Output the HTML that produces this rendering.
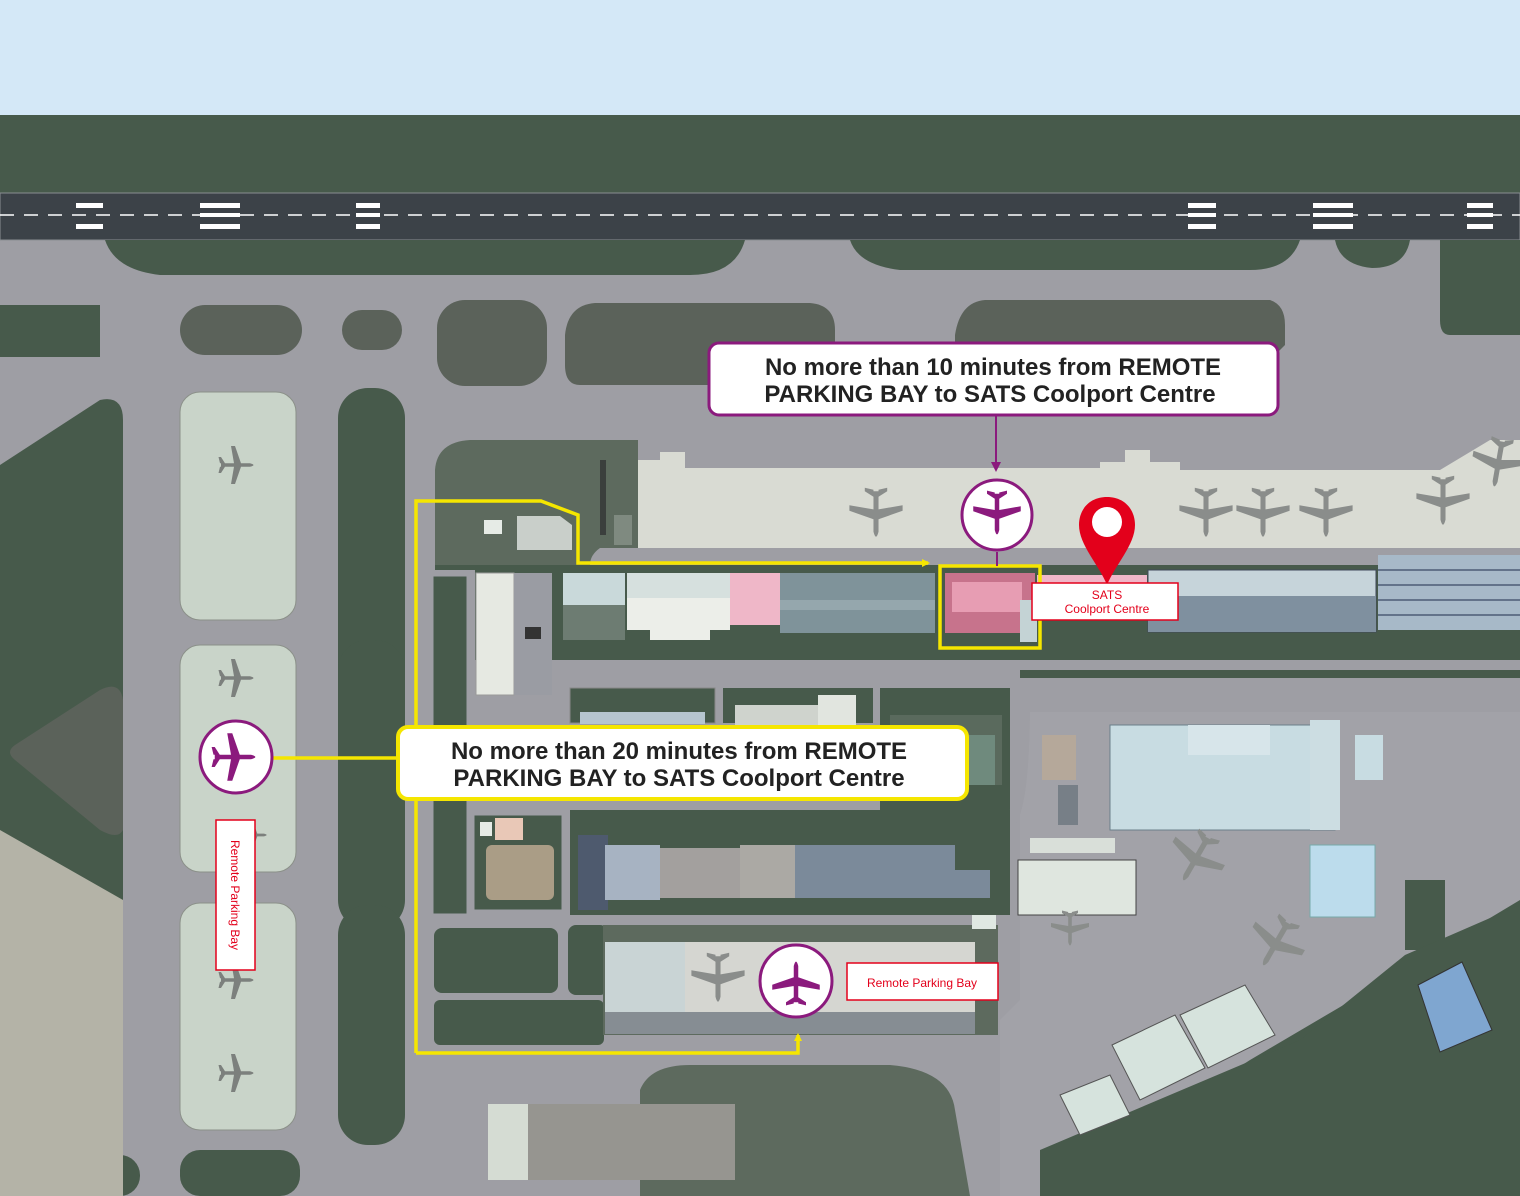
<!DOCTYPE html>
<html><head><meta charset="utf-8"><style>
html,body{margin:0;padding:0;width:1520px;height:1196px;overflow:hidden;background:#475a4b}
svg{display:block}
text{font-family:"Liberation Sans",sans-serif}
</style></head><body>
<svg width="1520" height="1196" viewBox="0 0 1520 1196" xmlns="http://www.w3.org/2000/svg">
<defs>
<symbol id="pl" viewBox="-20 -20 40 40"><path d="M-17,-1.8 L12,-1.8 Q19,0 12,1.8 L-17,1.8Z M3,-1.8 L-3,-19 L-7,-19 L-4,-1.8Z M3,1.8 L-3,19 L-7,19 L-4,1.8Z M-13,-1.8 L-17,-8 L-19.5,-8 L-18,-1.8Z M-13,1.8 L-17,8 L-19.5,8 L-18,1.8Z"/></symbol>
<marker id="ay" markerWidth="8" markerHeight="8" refX="6" refY="4" orient="auto" markerUnits="userSpaceOnUse"><path d="M0,0 L8,4 L0,8Z" fill="#f5e600"/></marker>
<marker id="ap" markerWidth="10" markerHeight="10" refX="8" refY="5" orient="auto" markerUnits="userSpaceOnUse"><path d="M0,0 L10,5 L0,10Z" fill="#8b1a7d"/></marker>
</defs>
<!-- sky -->
<rect x="0" y="0" width="1520" height="115" fill="#d4e8f7"/>
<rect x="0" y="115" width="1520" height="1081" fill="#475a4b"/>
<!-- gray taxiway base -->
<rect x="0" y="240" width="1520" height="430" fill="#9e9ea4"/>
<rect x="0" y="670" width="1020" height="526" fill="#9e9ea4"/>
<path d="M1020,700 L1520,700 L1520,900 L1420,960 L1250,1060 L1040,1196 L1000,1196 L1000,1020 L1020,1000Z" fill="#a2a2a8"/>
<!-- runway -->
<rect x="0" y="193" width="1520" height="47" fill="#3c4248" stroke="#8a8e92" stroke-width="1"/>
<line x1="0" y1="215" x2="1520" y2="215" stroke="#fff" stroke-width="1.5" stroke-dasharray="14 10"/>
<g fill="#fff">
<rect x="76" y="203" width="27" height="5"/><rect x="76" y="224" width="27" height="5"/>
<rect x="200" y="203" width="40" height="5"/><rect x="200" y="224" width="40" height="5"/>
<rect x="200" y="213" width="40" height="4"/>
<rect x="356" y="203" width="24" height="5"/><rect x="356" y="224" width="24" height="5"/><rect x="356" y="213" width="24" height="4"/>
<rect x="1188" y="203" width="28" height="5"/><rect x="1188" y="224" width="28" height="5"/><rect x="1188" y="213" width="28" height="4"/>
<rect x="1313" y="203" width="40" height="5"/><rect x="1313" y="224" width="40" height="5"/><rect x="1313" y="213" width="40" height="4"/>
<rect x="1467" y="203" width="26" height="5"/><rect x="1467" y="224" width="26" height="5"/><rect x="1467" y="213" width="26" height="4"/>
</g>
<!-- top green arcs -->
<g fill="#475a4b">
<path d="M105,240 L745,240 Q735,275 690,275 L160,275 Q115,270 105,240Z"/>
<path d="M850,240 L1300,240 Q1290,270 1250,270 L900,270 Q858,265 850,240Z"/>
<path d="M1335,240 L1410,240 Q1405,268 1372,268 Q1340,265 1335,240Z"/>
<path d="M1440,240 L1520,240 L1520,335 L1450,335 Q1440,335 1440,320Z"/>
<rect x="0" y="305" width="100" height="52"/>
</g>
<g fill="#5b625a">
<rect x="180" y="305" width="122" height="50" rx="25"/>
<rect x="342" y="310" width="60" height="40" rx="20"/>
<rect x="437" y="300" width="110" height="86" rx="28"/>
<path d="M595,303 L810,303 Q835,305 835,330 L835,385 L580,385 Q565,385 565,365 L565,335 Q568,305 595,303Z"/>
<path d="M985,300 L1270,300 Q1285,305 1285,325 L1285,345 L1270,360 L955,360 L955,335 Q960,302 985,300Z"/>
</g>
<!-- left column greens -->
<g fill="#475a4b">
<path d="M0,465 L100,400 Q123,395 123,420 L123,1196 L0,1196Z"/>
<rect x="338" y="388" width="67" height="312" rx="30"/>
<rect x="338" y="640" width="67" height="290" rx="30"/>
<rect x="338" y="905" width="67" height="240" rx="30"/>
<rect x="0" y="1155" width="140" height="41" rx="20"/>
<rect x="180" y="1150" width="120" height="46" rx="20"/>
</g>
<path d="M100,690 Q120,680 123,700 L123,830 Q118,840 100,830 L15,760 Q5,752 15,745Z" fill="#5b625a"/>
<path d="M0,830 L123,900 L123,1196 L0,1196Z" fill="#b4b3a7"/>
<rect x="143" y="400" width="25" height="796" fill="#9e9ea4"/>
<!-- remote parking strips -->
<g fill="#c9d4c9" stroke="#8b9089" stroke-width="1">
<rect x="180" y="392" width="116" height="228" rx="20"/>
<rect x="180" y="645" width="116" height="227" rx="20"/>
<rect x="180" y="903" width="116" height="227" rx="20"/>
</g>
<g fill="#7c807d">
<use href="#pl" x="218" y="445" width="40" height="40"/>
<use href="#pl" x="218" y="658" width="40" height="40"/>
<use href="#pl" x="218" y="960" width="40" height="40"/>
<use href="#pl" x="218" y="1053" width="40" height="40"/>
<use href="#pl" x="240" y="820" width="30" height="30"/>
</g>
<!-- apron -->
<path d="M638,460 L660,460 L660,452 L685,452 L685,468 L1100,468 L1100,462 L1125,462 L1125,450 L1150,450 L1150,462 L1180,462 L1180,470 L1440,470 L1490,440 L1520,440 L1520,548 L638,548Z" fill="#d9dbd3"/>
<g fill="#8a8d8b">
<use href="#pl" x="848" y="485" width="56" height="60" transform="rotate(90 876 515)"/>
<use href="#pl" x="1178" y="485" width="56" height="60" transform="rotate(90 1206 515)"/>
<use href="#pl" x="1235" y="485" width="56" height="60" transform="rotate(90 1263 515)"/>
<use href="#pl" x="1298" y="485" width="56" height="60" transform="rotate(90 1326 515)"/>
<use href="#pl" x="1415" y="475" width="56" height="56" transform="rotate(90 1443 503)"/>
<use href="#pl" x="1470" y="435" width="56" height="60" transform="rotate(100 1498 465)"/>
</g>
<!-- left block above building -->
<path d="M435,470 Q437,442 470,440 L638,440 L638,548 L600,548 Q590,555 590,565 L435,565Z" fill="#5d6a5e"/>
<rect x="600" y="460" width="6" height="75" fill="#3b3f3d"/>
<rect x="614" y="515" width="18" height="30" fill="#7f8a80"/>
<rect x="484" y="520" width="18" height="14" fill="#e6ebe6"/>
<path d="M517,516 L560,516 L572,525 L572,550 L517,550Z" fill="#c9cfca"/>
<!-- main building zone -->
<rect x="435" y="565" width="1085" height="95" fill="#475a4b"/>
<rect x="430" y="570" width="45" height="95" fill="#9e9ea4"/>
<rect x="476" y="573" width="38" height="122" fill="#e6e9e2" stroke="#999" />
<rect x="514" y="573" width="38" height="122" fill="#9a9ca3"/>
<rect x="525" y="627" width="16" height="12" fill="#333"/>
<rect x="563" y="573" width="62" height="32" fill="#c9d9da"/>
<rect x="563" y="605" width="62" height="35" fill="#6d7c72"/>
<rect x="627" y="573" width="103" height="25" fill="#d6e0de"/>
<rect x="627" y="598" width="103" height="32" fill="#eceee9"/>
<rect x="650" y="625" width="60" height="15" fill="#eceee9"/>
<rect x="730" y="573" width="50" height="52" fill="#efb7c8"/>
<rect x="780" y="573" width="155" height="60" fill="#7f939a"/>
<rect x="780" y="600" width="155" height="10" fill="#95a7ad"/>
<rect x="945" y="573" width="90" height="60" fill="#c7738c"/>
<rect x="952" y="582" width="70" height="30" fill="#e79db3"/>
<rect x="1020" y="600" width="17" height="42" fill="#c4d3d5"/>
<rect x="1037" y="575" width="110" height="45" fill="#efb7c8"/>
<rect x="1148" y="570" width="228" height="62" fill="#c6d4da" stroke="#40495a"/>
<rect x="1148" y="596" width="228" height="36" fill="#7f909f"/>
<rect x="1378" y="555" width="142" height="75" fill="#a7b9c8"/>
<g stroke="#4d5c75" stroke-width="1.5">
<line x1="1378" y1="570" x2="1520" y2="570"/><line x1="1378" y1="585" x2="1520" y2="585"/><line x1="1378" y1="600" x2="1520" y2="600"/><line x1="1378" y1="615" x2="1520" y2="615"/>
</g>
<!-- roads -->
<path d="M560,678 L1520,678 L1520,712 L1020,712 L1020,700 L560,700Z" fill="#9e9ea4"/>
<rect x="570" y="686" width="950" height="6" fill="#475a4b" opacity="0"/>
<!-- mid zone -->
<rect x="432" y="575" width="36" height="340" fill="#475a4b" stroke="#9e9ea4" stroke-width="3"/>
<rect x="570" y="688" width="145" height="35" fill="#475a4b" stroke="#888" />
<rect x="723" y="688" width="150" height="35" fill="#475a4b"/>
<rect x="580" y="712" width="125" height="12" fill="#b6c5cf"/>
<rect x="735" y="705" width="120" height="20" fill="#cfd3cd"/>
<rect x="818" y="695" width="38" height="30" fill="#e1e5df"/>
<rect x="880" y="688" width="130" height="132" fill="#475a4b"/>
<rect x="890" y="715" width="112" height="70" fill="#5a6a5d"/>
<rect x="965" y="735" width="30" height="50" fill="#6f8a7d"/>
<path d="M1020,700 Q1018,820 1000,825 L880,825 L880,830 L1010,830 Q1030,820 1030,700Z" fill="#9e9ea4"/>
<rect x="474" y="815" width="88" height="95" fill="#475a4b" stroke="#9e9ea4"/>
<rect x="480" y="822" width="12" height="14" fill="#e6ebe6"/>
<rect x="495" y="818" width="28" height="22" fill="#e9c8b7"/>
<rect x="486" y="845" width="68" height="55" fill="#aa9d86" rx="6"/>
<rect x="570" y="810" width="440" height="105" fill="#475a4b"/>
<rect x="578" y="835" width="30" height="75" fill="#4e5a6e"/>
<rect x="605" y="845" width="55" height="55" fill="#a7b3c2"/>
<rect x="660" y="848" width="135" height="50" fill="#a3a09e"/>
<rect x="740" y="845" width="55" height="53" fill="#aba9a4"/>
<rect x="795" y="845" width="160" height="53" fill="#7b8a9a"/>
<rect x="955" y="870" width="35" height="28" fill="#7b8a9a"/>
<rect x="1042" y="735" width="34" height="45" fill="#b5a89a"/>
<rect x="1058" y="785" width="20" height="40" fill="#777f87"/>
<!-- bottom zone -->
<rect x="434" y="928" width="124" height="65" fill="#475a4b" rx="8"/>
<rect x="434" y="1000" width="170" height="45" fill="#475a4b" rx="6"/>
<rect x="568" y="925" width="40" height="70" fill="#475a4b" rx="8"/>
<rect x="603" y="925" width="395" height="110" fill="#5d6a5e"/>
<rect x="605" y="942" width="80" height="70" fill="#c9d4d5"/>
<rect x="685" y="942" width="290" height="70" fill="#d5d6d1"/>
<rect x="605" y="1012" width="370" height="22" fill="#868d93"/>
<rect x="972" y="915" width="24" height="14" fill="#dfe8e2"/>
<g fill="#8a8d8b">
<use href="#pl" x="690" y="950" width="56" height="60" transform="rotate(90 718 980)"/>
</g>
<path d="M640,1090 Q650,1065 690,1065 L890,1065 Q950,1070 955,1110 L970,1196 L640,1196Z" fill="#5d6a5e"/>
<rect x="488" y="1104" width="247" height="76" fill="#969590"/>
<rect x="488" y="1104" width="40" height="76" fill="#d5dcd3"/>
<!-- right lower area -->
<rect x="1110" y="725" width="225" height="105" fill="#c8dce2" stroke="#6b7f8a"/>
<rect x="1188" y="725" width="82" height="30" fill="#d7e5ea"/>
<rect x="1310" y="720" width="30" height="110" fill="#ccdde2"/>
<rect x="1355" y="735" width="28" height="45" fill="#c8dce2"/>
<rect x="1310" y="845" width="65" height="72" fill="#bcdcec" stroke="#7aa"/>
<rect x="1018" y="860" width="118" height="55" fill="#dfe6df" stroke="#444"/>
<rect x="1030" y="838" width="85" height="15" fill="#d9dfd9"/>
<path d="M1405,880 L1445,880 L1445,950 L1405,950Z" fill="#475a4b"/>
<path d="M1405,955 L1520,905 L1520,1196 L1040,1196 L1040,1150 L1300,1040Z" fill="#475a4b"/>
<path d="M1418,985 L1462,962 L1492,1030 L1440,1052Z" fill="#7fa6d0" stroke="#333"/>
<g fill="#d6e3dd" stroke="#555">
<path d="M1180,1015 L1245,985 L1275,1035 L1208,1068Z"/>
<path d="M1112,1045 L1175,1015 L1205,1068 L1140,1100Z"/>
<path d="M1060,1095 L1110,1075 L1130,1115 L1080,1135Z"/>
</g>
<g fill="#8a8d8b">
<use href="#pl" x="1165" y="830" width="60" height="60" transform="rotate(120 1195 860)"/>
<use href="#pl" x="1245" y="915" width="60" height="60" transform="rotate(120 1275 945)"/>
<use href="#pl" x="1050" y="910" width="40" height="40" transform="rotate(90 1070 930)"/>
</g>
<!-- yellow routes -->
<g fill="none" stroke="#f5e600" stroke-width="3.5">
<polyline points="416,1053 416,501 541,501 578,515 578,563 928,563" marker-end="url(#ay)"/>
<polyline points="416,1053 798,1053 798,1035" marker-end="url(#ay)"/>
<line x1="272" y1="758" x2="397" y2="758"/>
<rect x="940" y="566" width="100" height="82"/>
</g>
<!-- purple connector -->
<line x1="996" y1="416" x2="996" y2="470" stroke="#8b1a7d" stroke-width="2" marker-end="url(#ap)"/>
<line x1="997" y1="552" x2="997" y2="566" stroke="#8b1a7d" stroke-width="2"/>
<!-- callouts -->
<rect x="709" y="343" width="569" height="72" rx="10" fill="#fff" stroke="#8b1a7d" stroke-width="3"/>
<text x="993" y="375" font-size="24" font-weight="bold" text-anchor="middle" fill="#222">No more than 10 minutes from REMOTE</text>
<text x="990" y="402" font-size="24" font-weight="bold" text-anchor="middle" fill="#222">PARKING BAY to SATS Coolport Centre</text>
<rect x="398" y="727" width="569" height="72" rx="10" fill="#fff" stroke="#f5e600" stroke-width="4"/>
<text x="679" y="759" font-size="24" font-weight="bold" text-anchor="middle" fill="#222">No more than 20 minutes from REMOTE</text>
<text x="679" y="786" font-size="24" font-weight="bold" text-anchor="middle" fill="#222">PARKING BAY to SATS Coolport Centre</text>
<!-- purple circles -->
<g>
<circle cx="997" cy="515" r="35" fill="#fff" stroke="#8b1a7d" stroke-width="3"/>
<use href="#pl" x="972" y="490" width="50" height="50" fill="#8b1a7d" transform="rotate(90 997 515)"/>
<circle cx="236" cy="757" r="36" fill="#fff" stroke="#8b1a7d" stroke-width="3"/>
<use href="#pl" x="211" y="732" width="50" height="50" fill="#8b1a7d"/>
<circle cx="796" cy="981" r="36" fill="#fff" stroke="#8b1a7d" stroke-width="3"/>
<use href="#pl" x="771" y="956" width="50" height="50" fill="#8b1a7d" transform="rotate(-90 796 981)"/>
</g>
<!-- red pin -->
<path d="M1107,497 C1125,497 1135,510 1135,525 C1135,545 1115,565 1107,585 C1099,565 1079,545 1079,525 C1079,510 1089,497 1107,497Z" fill="#e3001b"/>
<circle cx="1107" cy="522" r="15" fill="#fff"/>
<rect x="1032" y="583" width="146" height="37" fill="#fff" stroke="#e3001b" stroke-width="1.5"/>
<text x="1107" y="599" font-size="12" text-anchor="middle" fill="#e3001b">SATS</text>
<text x="1107" y="613" font-size="12" text-anchor="middle" fill="#e3001b">Coolport Centre</text>
<rect x="216" y="820" width="39" height="150" fill="#fff" stroke="#e3001b" stroke-width="1.5"/>
<text x="0" y="0" font-size="12" fill="#e3001b" text-anchor="middle" transform="translate(231 895) rotate(90)">Remote Parking Bay</text>
<rect x="847" y="963" width="151" height="37" fill="#fff" stroke="#e3001b" stroke-width="1.5"/>
<text x="922" y="987" font-size="12" text-anchor="middle" fill="#e3001b">Remote Parking Bay</text>
</svg>
</body></html>
